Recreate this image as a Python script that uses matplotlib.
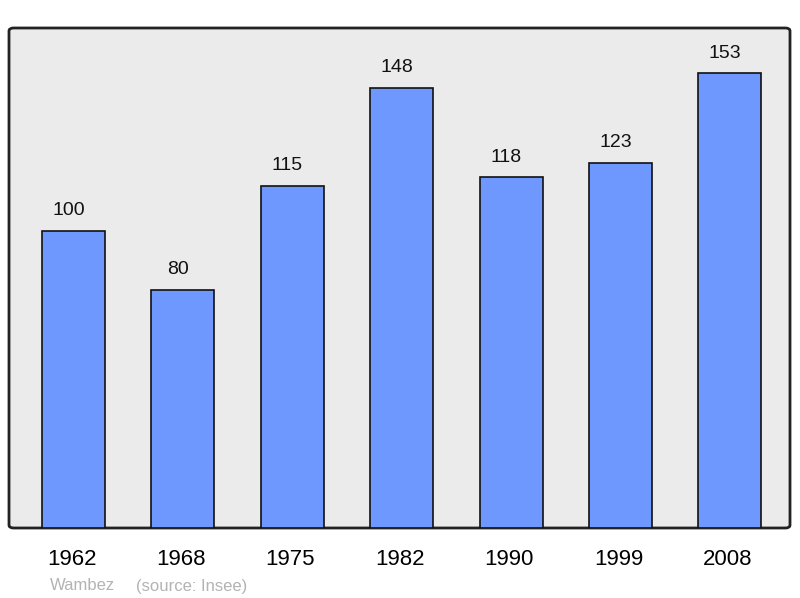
import matplotlib.pyplot as plt
from matplotlib.patches import FancyBboxPatch
from matplotlib.transforms import ScaledTranslation

years = ["1962", "1968", "1975", "1982", "1990", "1999", "2008"]
population = [100, 80, 115, 148, 118, 123, 153]

plt.rcParams['font.family'] = ['Liberation Sans', 'DejaVu Sans']

fig = plt.figure(figsize=(8, 5.98), dpi=100)
# axes placed in pixel fractions: left 9, right 790, top 28, bottom 528
W, H = 800, 598
ax = fig.add_axes([9 / W, (H - 528) / H, (790 - 9) / W, (528 - 28) / H])
ax.set_facecolor('none')

# rounded frame background
frame = FancyBboxPatch((0, 0), 1, 1, boxstyle="round,pad=0,rounding_size=0.006",
                       transform=ax.transAxes, facecolor='#ebebeb', edgecolor='#222222',
                       linewidth=2, zorder=0, clip_on=False)
ax.add_patch(frame)

x = list(range(len(years)))
ax.bar(x, population, width=0.576, color='#6f98ff', edgecolor='#111111',
       linewidth=1.2, zorder=2)

# labels sit a little left of bar centres in the original
shift = ScaledTranslation(-5 / 100, -3 / 100, fig.dpi_scale_trans)
for xi, v in zip(x, population):
    ax.text(xi, v + 5.0, str(v), ha='center', va='bottom', fontsize=14, color='#111111',
            transform=ax.transData + shift)

ax.set_xlim(-0.59, 6.55)
ax.set_ylim(0, 168.3)
for s in ax.spines.values():
    s.set_visible(False)
ax.set_yticks([])
ax.set_xticks(x)
ax.set_xticklabels(years, fontsize=16)
ax.tick_params(axis='x', length=0, pad=15)
tshift = ScaledTranslation(-2 / 100, 0, fig.dpi_scale_trans)
for lbl in ax.get_xticklabels():
    lbl.set_transform(lbl.get_transform() + tshift)

fig.text(50 / W, 1 - 586 / H, "Wambez", fontsize=12, color='#b3b3b3',
         va='center', ha='left')
fig.text(136 / W, 1 - 586 / H, "(source: Insee)", fontsize=12, color='#b3b3b3',
         va='center', ha='left')

fig.savefig("out.png", dpi=100)
